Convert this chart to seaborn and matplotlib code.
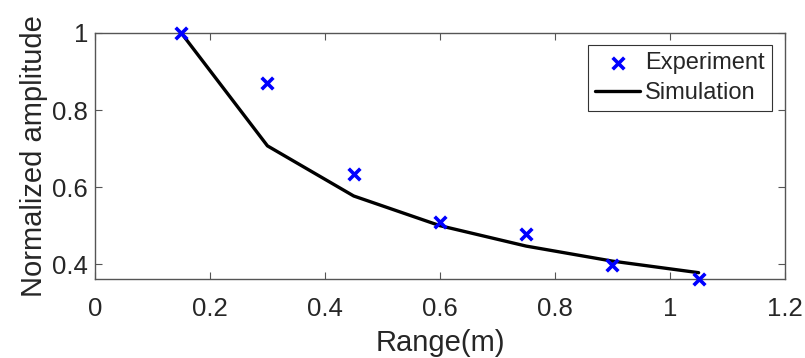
import matplotlib
matplotlib.use("Agg")
import matplotlib.pyplot as plt
import seaborn as sns
import pandas as pd

range_m = [0.15, 0.30, 0.45, 0.60, 0.75, 0.90, 1.05]
experiment = [1.0, 0.870, 0.634, 0.509, 0.479, 0.399, 0.361]
simulation = [1.0, 0.707, 0.577, 0.500, 0.447, 0.408, 0.378]
x_ticks = [0, 0.2, 0.4, 0.6, 0.8, 1.0, 1.2]
x_ticklabels = ["0", "0.2", "0.4", "0.6", "0.8", "1", "1.2"]
y_ticks = [0.4, 0.6, 0.8, 1.0]
y_ticklabels = ["0.4", "0.6", "0.8", "1"]

sns.set_style("white")
plt.rcParams["font.family"] = ["Liberation Sans", "DejaVu Sans"]

df = pd.DataFrame({"range": range_m, "exp": experiment, "sim": simulation})

fig = plt.figure(figsize=(8.05, 3.58), dpi=100)
ax = fig.add_axes([0.118, 0.220, 0.857, 0.688])

sns.lineplot(data=df, x="range", y="sim", ax=ax, color="black", linewidth=2.4,
             label="Simulation", zorder=2)
sns.scatterplot(data=df, x="range", y="exp", ax=ax, marker="x", color="#0000ff",
                s=70, linewidth=2.6, label="Experiment", zorder=3, clip_on=False)

ax.set_xlim(0, 1.2)
ax.set_ylim(0.361, 1.0)
ax.set_xticks(x_ticks)
ax.set_xticklabels(x_ticklabels)
ax.set_yticks(y_ticks)
ax.set_yticklabels(y_ticklabels)
ax.set_xlabel("Range(m)", fontsize=21, color="#262626", labelpad=5.5)
ax.set_ylabel("Normalized amplitude", fontsize=21, color="#262626", labelpad=3)

for sp in ax.spines.values():
    sp.set_visible(True)
    sp.set_color("#555555")
    sp.set_linewidth(1.0)
ax.tick_params(axis="both", which="both", direction="in", length=5, width=0.8,
               colors="#555555", labelcolor="#262626", labelsize=18.5,
               top=True, right=True, bottom=True, left=True)
ax.tick_params(axis="x", pad=13)
ax.tick_params(axis="y", pad=5)

handles, labels = ax.get_legend_handles_labels()
order = [labels.index("Experiment"), labels.index("Simulation")]
leg = ax.legend([handles[i] for i in order], [labels[i] for i in order],
                loc="upper right", bbox_to_anchor=(0.981, 0.951), fontsize=17,
                frameon=True, fancybox=False, framealpha=1, edgecolor="#333333",
                handlelength=1.9, handletextpad=0.2, borderpad=0.3,
                labelspacing=0.35, borderaxespad=0)
leg.get_frame().set_linewidth(0.8)

fig.savefig("out.png", dpi=100)
